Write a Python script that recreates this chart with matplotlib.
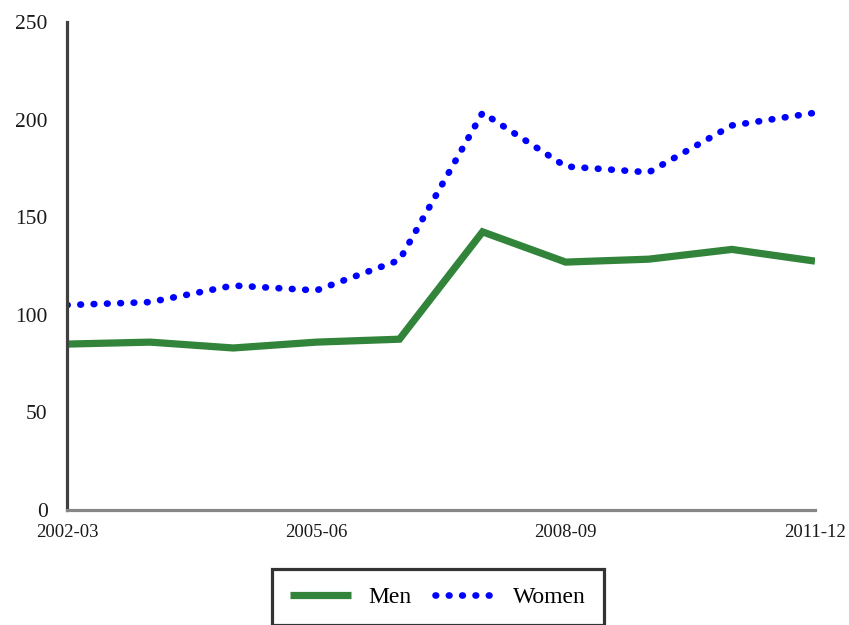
import matplotlib
matplotlib.use("Agg")
import matplotlib.pyplot as plt

categories = ["2002-03", "2003-04", "2004-05", "2005-06", "2006-07",
              "2007-08", "2008-09", "2009-10", "2010-11", "2011-12"]
men = [85, 86, 83, 86, 87.5, 142.5, 127, 128.5, 133.5, 127.5]
women = [105, 106.5, 115, 112.5, 128, 203.5, 176, 173, 197, 203.5]
shown_ticks = ["2002-03", "2005-06", "2008-09", "2011-12"]
yticks = [0, 50, 100, 150, 200, 250]

plt.rcParams['font.family'] = ['Liberation Serif', 'DejaVu Serif']

fig = plt.figure(figsize=(8.49, 6.25), dpi=100)
ax = fig.add_axes([67/849, 1-510/625, (815-67)/849, (510-22)/625])

x = list(range(len(categories)))
ax.plot(x, men, color="#31843A", lw=5.2, solid_capstyle="butt", solid_joinstyle="miter", label="Men")
ax.plot(x, women, color="#0000FF", lw=4.8, linestyle=(0, (0.1, 1.9)),
        dash_capstyle="round", label="Women")

ax.set_xlim(0, len(categories)-1)
ax.set_ylim(0, 250)
ax.set_yticks(yticks)
ax.set_yticklabels([str(v) for v in yticks], fontsize=15.5, color="#1a1a1a")
ax.set_xticks([categories.index(c) for c in shown_ticks])
ax.set_xticklabels(shown_ticks, fontsize=13.5, color="#1a1a1a")
ax.tick_params(axis="both", length=0)
ax.tick_params(axis="y", pad=14)
ax.tick_params(axis="x", pad=10)

for s in ["top", "right"]:
    ax.spines[s].set_visible(False)
ax.spines["left"].set_color("#404040")
ax.spines["left"].set_linewidth(2.3)
ax.spines["bottom"].set_color("#868686")
ax.spines["bottom"].set_linewidth(2.3)

leg = fig.legend(loc="center", bbox_to_anchor=(438/849, 1-597/625), ncol=2,
                 fontsize=17, frameon=True, fancybox=False, handlelength=2.6,
                 borderpad=0.75, columnspacing=1.0, handletextpad=0.72)
leg.get_frame().set_edgecolor("black")
leg.get_frame().set_linewidth(2.3)

fig.savefig("out.png", dpi=100)
